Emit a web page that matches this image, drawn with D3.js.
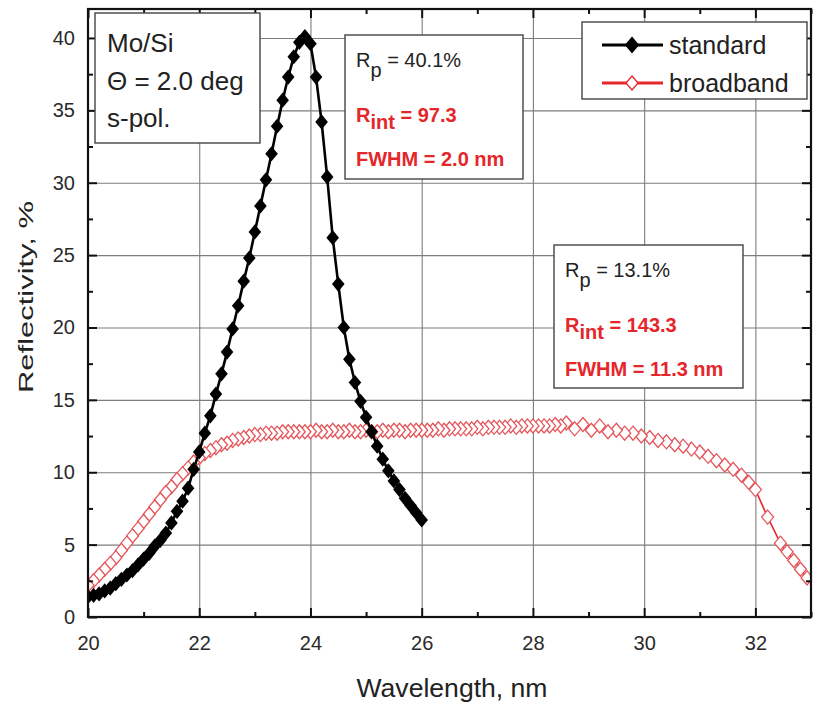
<!DOCTYPE html>
<html>
<head>
<meta charset="utf-8">
<script src="https://cdn.jsdelivr.net/npm/d3@7"></script>
<style>
  html, body { margin: 0; padding: 0; background: #fff; }
  svg { display: block; font-family: "Liberation Sans", Arial, sans-serif; }
</style>
</head>
<body>
<svg id="chart" width="814" height="704"></svg>
<script>
// Reflectivity spectra of a standard and a broadband Mo/Si multilayer

const wavelengthStandard = [
  20.0, 20.1, 20.2, 20.3, 20.4, 20.5, 20.6, 20.7, 20.8, 20.9,
  21.0, 21.1, 21.2, 21.3, 21.4, 21.5, 21.6, 21.7, 21.8, 21.9,
  22.0, 22.1, 22.2, 22.3, 22.4, 22.5, 22.6, 22.7, 22.8, 22.9,
  23.0, 23.1, 23.2, 23.3, 23.4, 23.5, 23.6, 23.7, 23.8, 23.9,
  24.0, 24.1, 24.2, 24.3, 24.4, 24.5, 24.6, 24.7, 24.8, 24.9,
  25.0, 25.1, 25.2, 25.3, 25.4, 25.5, 25.6, 25.7, 25.8, 25.9,
  26.0
];
const reflStandard = [
  1.4, 1.5, 1.6, 1.8, 2.0, 2.3, 2.6, 2.9, 3.2, 3.6,
  4.0, 4.4, 4.9, 5.3, 5.8, 6.5, 7.3, 8.0, 8.9, 10.2,
  11.4, 12.7, 13.9, 15.4, 16.8, 18.3, 19.9, 21.5, 23.2, 24.8,
  26.6, 28.4, 30.2, 32.0, 33.9, 35.7, 37.3, 38.7, 39.7, 40.1,
  39.6, 37.3, 34.2, 30.4, 26.2, 23.0, 20.0, 17.8, 16.2, 14.9,
  13.8, 12.8, 11.8, 10.9, 10.1, 9.4, 8.8, 8.2, 7.7, 7.2,
  6.7
];

const wavelengthBroad = [
  20.0, 20.1, 20.2, 20.3, 20.4, 20.5, 20.6, 20.7, 20.8, 20.9,
  21.0, 21.1, 21.2, 21.3, 21.4, 21.5, 21.6, 21.7, 21.8, 21.9,
  22.0, 22.1, 22.2, 22.3, 22.4, 22.5, 22.6, 22.7, 22.8, 22.9,
  23.0, 23.1, 23.2, 23.3, 23.4, 23.5, 23.6, 23.7, 23.8, 23.9,
  24.0, 24.1, 24.2, 24.3, 24.4, 24.5, 24.6, 24.7, 24.8, 24.9,
  25.0, 25.1, 25.2, 25.3, 25.4, 25.5, 25.6, 25.7, 25.8, 25.9,
  26.0, 26.1, 26.2, 26.3, 26.4, 26.5, 26.6, 26.7, 26.8, 26.9,
  27.0, 27.1, 27.2, 27.3, 27.4, 27.5, 27.6, 27.7, 27.8, 27.9,
  28.0, 28.1, 28.2, 28.3, 28.4, 28.5,
  28.6, 28.75, 28.9, 29.05, 29.2, 29.35, 29.5, 29.65, 29.8, 29.95,
  30.1, 30.25, 30.4, 30.55, 30.7, 30.85, 31.0, 31.15, 31.3, 31.45,
  31.6, 31.75, 31.88, 32.0, 32.22, 32.45, 32.57, 32.69, 32.81, 32.93
];
const reflBroad = [
  2.2, 2.5, 2.9, 3.3, 3.7, 4.1, 4.6, 5.1, 5.6, 6.1,
  6.6, 7.1, 7.6, 8.1, 8.6, 9.0, 9.5, 9.9, 10.3, 10.7,
  11.0, 11.3, 11.5, 11.7, 11.9, 12.0, 12.2, 12.3, 12.4, 12.5,
  12.6, 12.6, 12.7, 12.7, 12.7, 12.8, 12.8, 12.8, 12.8, 12.8,
  12.8, 12.9, 12.8, 12.8, 12.9, 12.8, 12.8, 12.9, 12.8, 12.8,
  12.9, 12.8, 12.8, 12.9, 12.8, 12.9, 12.9, 12.8, 12.9, 12.9,
  12.9, 12.9, 12.9, 13.0, 12.9, 13.0, 13.0, 13.0, 13.0, 13.0,
  13.1, 13.0, 13.1, 13.1, 13.1, 13.1, 13.2, 13.1, 13.2, 13.2,
  13.2, 13.2, 13.2, 13.2, 13.3, 13.2,
  13.4, 13.0, 13.3, 12.9, 13.2, 12.8, 12.9, 12.7, 12.7, 12.5,
  12.4, 12.2, 12.1, 11.9, 11.8, 11.6, 11.4, 11.1, 10.8, 10.5,
  10.2, 9.8, 9.3, 8.8, 6.9, 5.1, 4.5, 3.9, 3.3, 2.7
];

const xMajorTicks = [20, 22, 24, 26, 28, 30, 32];
const xMinorTicks = [21, 23, 25, 27, 29, 31, 33];
const yMajorTicks = [0, 5, 10, 15, 20, 25, 30, 35, 40];
const yMinorTicks = [2.5, 7.5, 12.5, 17.5, 22.5, 27.5, 32.5, 37.5];

const seriesNames = ["standard", "broadband"];
const infoLines = ["Mo/Si", "\u0398 = 2.0 deg", "s-pol."];
const standardStats = { rp: "40.1%", rint: "97.3", fwhm: "2.0 nm" };
const broadStats = { rp: "13.1%", rint: "143.3", fwhm: "11.3 nm" };

const plot = { left: 88, right: 811, top: 9, bottom: 617 };
const RED = "#e5262b";
const RED_MARK = "#e4555a";
const INK = "#222";

const svg = d3.select("#chart");

const x = d3.scaleLinear().domain([20, 33]).range([plot.left, plot.right]);
const y = d3.scaleLinear().domain([0, 42]).range([plot.bottom, plot.top]);

// rhombus marker slightly taller than wide
function rhombus(hw, hh) {
  return {
    draw(ctx) {
      ctx.moveTo(0, -hh);
      ctx.lineTo(hw, 0);
      ctx.lineTo(0, hh);
      ctx.lineTo(-hw, 0);
      ctx.closePath();
    }
  };
}
const blackDiamond = d3.symbol().type(rhombus(6.3, 7.6))();
const openDiamond = d3.symbol().type(rhombus(6.0, 7.0))();

// grid lines
const grid = svg.append("g").attr("class", "grid");
grid.append("g")
  .attr("transform", `translate(0,${plot.bottom})`)
  .call(d3.axisBottom(x).tickValues(xMajorTicks.filter(v => v > 20))
    .tickSize(-(plot.bottom - plot.top)).tickFormat(""))
  .call(g => g.select(".domain").remove());
grid.append("g")
  .attr("transform", `translate(${plot.left},0)`)
  .call(d3.axisLeft(y).tickValues(yMajorTicks.filter(v => v > 0))
    .tickSize(-(plot.right - plot.left)).tickFormat(""))
  .call(g => g.select(".domain").remove());
grid.selectAll("line").attr("stroke", "#7d7d7d").attr("stroke-width", 1.1);

// data layer clipped to the frame
svg.append("defs").append("clipPath").attr("id", "plotClip")
  .append("rect")
  .attr("x", plot.left).attr("y", plot.top)
  .attr("width", plot.right - plot.left).attr("height", plot.bottom - plot.top);

const dataLayer = svg.append("g").attr("clip-path", "url(#plotClip)");

const broadData = wavelengthBroad.map((w, i) => ({ w, r: reflBroad[i] }));
const stdData = wavelengthStandard.map((w, i) => ({ w, r: reflStandard[i] }));

const line = d3.line().x(d => x(d.w)).y(d => y(d.r));

dataLayer.append("path")
  .datum(broadData)
  .attr("d", line)
  .attr("fill", "none")
  .attr("stroke", RED)
  .attr("stroke-width", 1.6);

dataLayer.append("g")
  .selectAll("path")
  .data(broadData.slice().reverse())
  .join("path")
  .attr("d", openDiamond)
  .attr("transform", d => `translate(${x(d.w)},${y(d.r)})`)
  .attr("fill", "#fff")
  .attr("stroke", RED_MARK)
  .attr("stroke-width", 1.3);

dataLayer.append("path")
  .datum(stdData)
  .attr("d", line)
  .attr("fill", "none")
  .attr("stroke", "#000")
  .attr("stroke-width", 2.6);

dataLayer.append("g")
  .selectAll("path")
  .data(stdData)
  .join("path")
  .attr("d", blackDiamond)
  .attr("transform", d => `translate(${x(d.w)},${y(d.r)})`)
  .attr("fill", "#000");

// axes: ticks point inward on all four sides
const axes = svg.append("g").attr("class", "axes");
const tickFont = g => g.selectAll("text")
  .attr("font-size", 20)
  .attr("font-family", "Liberation Sans, Arial, sans-serif")
  .attr("fill", "#2a2a2a");

axes.append("g")
  .attr("transform", `translate(0,${plot.bottom})`)
  .call(d3.axisBottom(x).tickValues(xMajorTicks).tickSize(-9).tickPadding(19)
    .tickFormat(d3.format("d")))
  .call(tickFont);
axes.append("g")
  .attr("transform", `translate(0,${plot.bottom})`)
  .call(d3.axisBottom(x).tickValues(xMinorTicks).tickSize(-5).tickFormat(""));
axes.append("g")
  .attr("transform", `translate(${plot.left},0)`)
  .call(d3.axisLeft(y).tickValues(yMajorTicks).tickSize(-9).tickPadding(13)
    .tickFormat(d3.format("d")))
  .call(tickFont);
axes.append("g")
  .attr("transform", `translate(${plot.left},0)`)
  .call(d3.axisLeft(y).tickValues(yMinorTicks).tickSize(-5).tickFormat(""));
axes.append("g")
  .attr("transform", `translate(0,${plot.top})`)
  .call(d3.axisTop(x).tickValues(xMajorTicks).tickSize(-9).tickFormat(""));
axes.append("g")
  .attr("transform", `translate(0,${plot.top})`)
  .call(d3.axisTop(x).tickValues(xMinorTicks).tickSize(-5).tickFormat(""));
axes.append("g")
  .attr("transform", `translate(${plot.right},0)`)
  .call(d3.axisRight(y).tickValues(yMajorTicks).tickSize(-9).tickFormat(""));
axes.append("g")
  .attr("transform", `translate(${plot.right},0)`)
  .call(d3.axisRight(y).tickValues(yMinorTicks).tickSize(-5).tickFormat(""));
axes.selectAll(".domain").remove();
axes.selectAll(".tick line").attr("stroke", "#111").attr("stroke-width", 2);

svg.append("rect")
  .attr("x", plot.left).attr("y", plot.top)
  .attr("width", plot.right - plot.left).attr("height", plot.bottom - plot.top)
  .attr("fill", "none").attr("stroke", "#111").attr("stroke-width", 2.2);

// axis titles
svg.append("text")
  .attr("x", 452).attr("y", 697)
  .attr("text-anchor", "middle")
  .attr("font-size", 25)
  .attr("fill", INK)
  .attr("textLength", 191).attr("lengthAdjust", "spacingAndGlyphs")
  .text("Wavelength, nm");

svg.append("text")
  .attr("transform", "translate(33,297) rotate(-90)")
  .attr("text-anchor", "middle")
  .attr("font-size", 21)
  .attr("fill", INK)
  .attr("textLength", 192).attr("lengthAdjust", "spacingAndGlyphs")
  .text("Reflectivity, %");

// boxed annotations
function box(x0, y0, w, h) {
  svg.append("rect")
    .attr("x", x0).attr("y", y0).attr("width", w).attr("height", h)
    .attr("fill", "#fff").attr("stroke", "#444").attr("stroke-width", 1.4);
}

box(95, 13, 165, 130);
svg.append("g").selectAll("text")
  .data(infoLines)
  .join("text")
  .attr("x", 107)
  .attr("y", (d, i) => 52 + i * 37.5)
  .attr("font-size", 26)
  .attr("fill", INK)
  .text(d => d);

function statsBox(x0, y0, w, h, stats) {
  box(x0, y0, w, h);
  const tx = x0 + 11;
  const rp = svg.append("text").attr("x", tx).attr("y", y0 + 32)
    .attr("font-size", 20).attr("fill", INK);
  rp.append("tspan").text("R");
  rp.append("tspan").attr("dy", 10).text("p");
  rp.append("tspan").attr("dy", -10).text(" = " + stats.rp);

  const ri = svg.append("text").attr("x", tx).attr("y", y0 + 87)
    .attr("font-size", 20).attr("font-weight", "bold").attr("fill", RED);
  ri.append("tspan").text("R");
  ri.append("tspan").attr("dy", 7).text("int");
  ri.append("tspan").attr("dy", -7).text(" = " + stats.rint);

  svg.append("text").attr("x", tx).attr("y", y0 + 131)
    .attr("font-size", 20).attr("font-weight", "bold").attr("fill", RED)
    .text("FWHM = " + stats.fwhm);
}
statsBox(345, 35, 178, 144, standardStats);
statsBox(554, 245, 189, 143, broadStats);

// legend
box(582, 22, 225, 77);
const legendRows = [
  { name: seriesNames[0], y: 45, stroke: "#000", fill: "#000", mark: blackDiamond },
  { name: seriesNames[1], y: 83, stroke: RED, fill: "#fff", mark: openDiamond }
];
const leg = svg.append("g").selectAll("g").data(legendRows).join("g");
leg.append("line")
  .attr("x1", 602).attr("x2", 663)
  .attr("y1", d => d.y).attr("y2", d => d.y)
  .attr("stroke", d => d.stroke).attr("stroke-width", 3);
leg.append("path")
  .attr("d", d => d.mark)
  .attr("transform", d => `translate(632,${d.y})`)
  .attr("fill", d => d.fill)
  .attr("stroke", d => d.stroke)
  .attr("stroke-width", 1.3);
leg.append("text")
  .attr("x", 669)
  .attr("y", d => d.y + 9)
  .attr("font-size", 25)
  .attr("fill", INK)
  .text(d => d.name);
</script>
</body>
</html>
